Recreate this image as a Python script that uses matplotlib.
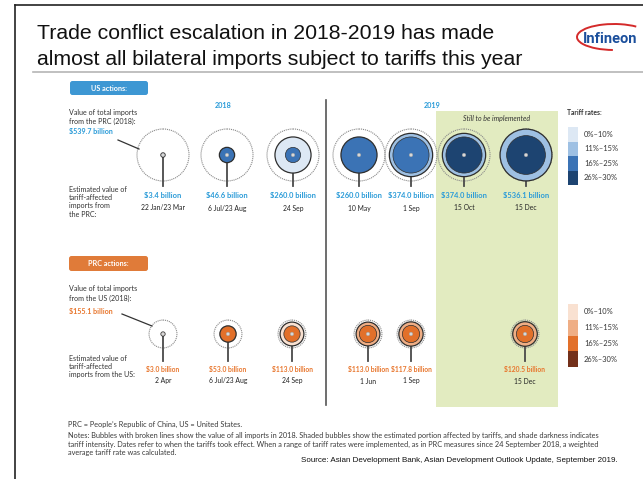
import matplotlib

matplotlib.use("Agg")
import matplotlib.pyplot as plt
from matplotlib.patches import Arc, Circle, FancyBboxPatch, Rectangle
import numpy as np

# total 2018 imports, in billions of dollars
US_TOTAL = 539.7
PRC_TOTAL = 155.1

rate_bins = ["0%\u201310%", "11%\u201315%", "16%\u201325%", "26%\u201330%"]
us_colors = ["#dde8f4", "#9ec0e3", "#3b73b5", "#1d4471"]
prc_colors = ["#f9e1d1", "#efae85", "#e2702a", "#73301a"]

us_dates = ["22 Jan/23 Mar", "6 Jul/23 Aug", "24 Sep", "10 May", "1 Sep", "15 Oct", "15 Dec"]
us_values = [3.4, 46.6, 260.0, 260.0, 374.0, 374.0, 536.1]
# shaded layers of each bubble, outer to inner: (value, index into rate_bins)
us_layers = [
    [(3.4, 1)],
    [(46.6, 2)],
    [(260.0, 0), (46.6, 2)],
    [(260.0, 2)],
    [(374.0, 1), (260.0, 2)],
    [(374.0, 1), (260.0, 3)],
    [(536.1, 1), (300.0, 3)],
]

prc_dates = ["2 Apr", "6 Jul/23 Aug", "24 Sep", "1 Jun", "1 Sep", "15 Dec"]
prc_values = [3.0, 53.0, 113.0, 113.0, 117.8, 120.5]
prc_layers = [
    [(3.0, 2)],
    [(53.0, 2)],
    [(113.0, 0), (53.0, 2)],
    [(113.0, 1), (60.0, 2)],
    [(117.8, 1), (60.0, 2)],
    [(120.5, 1), (60.0, 2)],
]

us_x = [163, 227, 293, 359, 411, 464, 526]
prc_x = [163, 228, 292, 368, 411, 525]

US_BLUE = "#2a9bd8"
PRC_ORANGE = "#e8762d"
LABEL_FONT = "Lato"
SIDE = 5.1      # size of the side captions
R_SCALE = 26.0  # pixel radius of a bubble worth US_TOTAL


def radius(value):
    return R_SCALE * np.sqrt(value / US_TOTAL)


def draw_bubble(ax, x, y, total, layers, colors, stem_end):
    ax.plot([x, x], [y, stem_end], color="#4a4a4a", lw=1.3, zorder=2)
    ax.add_patch(Circle((x, y), radius(total), fill=False, ec="#8a8a8a",
                        lw=0.8, ls=(0, (1, 0.8)), zorder=1))
    for i, (val, rate) in enumerate(layers):
        lw = 0.9 if i == 0 else 0.5
        ax.add_patch(Circle((x, y), radius(val), fc=colors[rate], ec="#2e2e2e",
                            lw=lw, zorder=3 + i))
    ax.add_patch(Circle((x, y), 1.7, fc="white", ec="#9a9a9a", lw=0.4, zorder=10))
    ax.add_patch(Circle((x, y), 0.6, fc="#777777", ec="none", zorder=11))


def draw_legend(ax, x, top, height, colors, labels, title=None):
    step = height / len(colors)
    for i, (c, lab) in enumerate(zip(colors, labels)):
        ax.add_patch(Rectangle((x, top + i * step), 10, step, fc=c, ec="none", zorder=2))
        ax.text(x + 16, top + (i + 0.5) * step, lab, fontsize=5.4, family=LABEL_FONT,
                color="#333333", va="center", ha="left")
    if title:
        ax.text(x - 1, top - 15, title, fontsize=4.9, family=LABEL_FONT,
                weight="bold", color="#333333", va="center", ha="left")


fig = plt.figure(figsize=(6.43, 4.79), dpi=100)
ax = fig.add_axes([0, 0, 1, 1])
ax.set_xlim(0, 643)
ax.set_ylim(479, 0)
ax.axis("off")

# slide frame and header
ax.plot([15, 643], [5, 5], color="#222222", lw=1.2)
ax.plot([15, 15], [5, 479], color="#222222", lw=1.2)
ax.plot([33, 643], [72, 72], color="#b5b5b5", lw=1.2)
ax.text(37, 39, "Trade conflict escalation in 2018-2019 has made", fontsize=15.3,
        family="Liberation Sans", color="#111111", va="baseline")
ax.text(37, 65, "almost all bilateral imports subject to tariffs this year", fontsize=15.3,
        family="Liberation Sans", color="#111111", va="baseline")
ax.add_patch(Arc((614, 37), 74, 26, theta1=95, theta2=335, color="#d42a2a", lw=1.4))
ax.text(583, 43, "Infineon", fontsize=10.5, family="Roboto", weight="bold",
        color="#1b4f9c", va="baseline", ha="left", fontstretch="condensed")

# shaded block for measures not yet in force, and the year divider
ax.add_patch(Rectangle((436, 111), 122, 296, fc="#e2ebc0", ec="none", zorder=0))
ax.text(497, 118, "Still to be implemented", fontsize=5.0, family=LABEL_FONT,
        style="italic", color="#333333", ha="center", va="center")
ax.plot([326, 326], [100, 405], color="#555555", lw=1.2, zorder=1)
ax.text(223, 105, "2018", fontsize=5.2, family=LABEL_FONT, weight="bold",
        color=US_BLUE, ha="center", va="center")
ax.text(432, 105, "2019", fontsize=5.2, family=LABEL_FONT, weight="bold",
        color=US_BLUE, ha="center", va="center")

# US actions
ax.add_patch(FancyBboxPatch((70, 81), 78, 14, boxstyle="round,pad=0,rounding_size=2.5",
                            fc="#3d97d3", ec="none"))
ax.text(109, 88, "US actions:", fontsize=5.2, family=LABEL_FONT, weight="bold",
        color="white", ha="center", va="center")
ax.text(69, 112, "Value of total imports", fontsize=SIDE, family=LABEL_FONT,
        color="#333333", va="center")
ax.text(69, 121, "from the PRC (2018):", fontsize=SIDE, family=LABEL_FONT,
        color="#333333", va="center")
ax.text(69, 132, "$539.7 billion", fontsize=SIDE, family=LABEL_FONT, weight="bold",
        color=US_BLUE, va="center")
ax.plot([118, 139], [140, 149], color="#333333", lw=0.9)
ax.text(69, 186, "Estimated value of\ntariff-affected\nimports from\nthe PRC:",
        fontsize=SIDE, family=LABEL_FONT, color="#333333", va="top", linespacing=1.2)

for x, date, val, layers in zip(us_x, us_dates, us_values, us_layers):
    draw_bubble(ax, x, 155, US_TOTAL, layers, us_colors, 186)
    ax.text(x, 196, f"${val:.1f} billion", fontsize=5.4, family=LABEL_FONT, weight="bold",
            color=US_BLUE, ha="center", va="center")
    ax.text(x, 208, date, fontsize=4.9, family=LABEL_FONT, color="#222222",
            ha="center", va="center")

draw_legend(ax, 568, 127, 58, us_colors, rate_bins, title="Tariff rates:")

# PRC actions
ax.add_patch(FancyBboxPatch((69, 256), 79, 15, boxstyle="round,pad=0,rounding_size=2.5",
                            fc="#e07b39", ec="none"))
ax.text(108, 263, "PRC actions:", fontsize=5.2, family=LABEL_FONT, weight="bold",
        color="white", ha="center", va="center")
ax.text(69, 289, "Value of total imports", fontsize=SIDE, family=LABEL_FONT,
        color="#333333", va="center")
ax.text(69, 298, "from the US (2018):", fontsize=SIDE, family=LABEL_FONT,
        color="#333333", va="center")
ax.text(69, 312, "$155.1 billion", fontsize=SIDE, family=LABEL_FONT, weight="bold",
        color=PRC_ORANGE, va="center")
ax.plot([122, 152], [314, 326], color="#333333", lw=0.9)
ax.text(69, 355, "Estimated value of\ntariff-affected\nimports from the US:",
        fontsize=SIDE, family=LABEL_FONT, color="#333333", va="top", linespacing=1.2)

for x, date, val, layers in zip(prc_x, prc_dates, prc_values, prc_layers):
    draw_bubble(ax, x, 334, PRC_TOTAL, layers, prc_colors, 361)
    ax.text(x, 369, f"${val:.1f} billion", fontsize=4.9, family=LABEL_FONT, weight="bold",
            color=PRC_ORANGE, ha="center", va="center")
    ax.text(x, 381, date, fontsize=4.9, family=LABEL_FONT, color="#222222",
            ha="center", va="center")

draw_legend(ax, 568, 304, 63, prc_colors, rate_bins)

# footnotes
ax.text(68, 424, "PRC = People\u2019s Republic of China, US = United States.", fontsize=5.3,
        family=LABEL_FONT, color="#3a3a3a", va="center")
notes = ("Notes: Bubbles with broken lines show the value of all imports in 2018. Shaded bubbles "
         "show the estimated portion affected by tariffs, and shade darkness indicates\n"
         "tariff intensity. Dates refer to when the tariffs took effect. When a range of tariff "
         "rates were implemented, as in PRC measures since 24 September 2018, a weighted\n"
         "average tariff rate was calculated.")
ax.text(68, 432, notes, fontsize=5.3, family=LABEL_FONT, color="#3a3a3a", va="top",
        linespacing=1.25)
ax.text(301, 460, "Source: Asian Development Bank, Asian Development Outlook Update, September 2019.",
        fontsize=5.75, family="Liberation Sans", color="#111111", va="center")

fig.savefig("out.png", dpi=100)
